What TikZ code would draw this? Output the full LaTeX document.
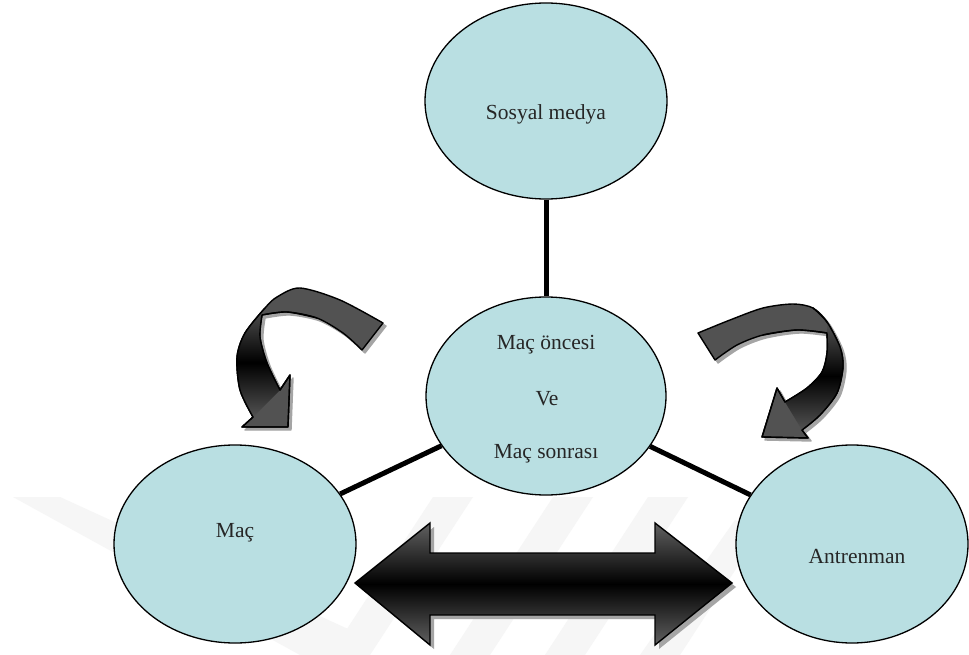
\documentclass[tikz,border=0pt]{standalone}
\usepackage{fontspec}
\setmainfont{Liberation Serif}
\usetikzlibrary{shapes.geometric}
\definecolor{ellfill}{RGB}{185,223,226}
\definecolor{arrgray}{RGB}{82,82,82}
\definecolor{shadowgray}{RGB}{165,165,165}
\definecolor{wmark}{RGB}{246,246,246}
\begin{document}
\begin{tikzpicture}[x=1pt,y=-1pt,
  ell/.style={ellipse, draw=black, line width=1.3pt, fill=ellfill, inner sep=0pt},
  lbl/.style={font=\fontsize{21.5}{24}\selectfont, anchor=base, inner sep=0pt, text=black!85},
  conn/.style={line width=5pt, black},
  curvearr/.style={line width=1.4pt, line join=round},
  stripe/.style={fill=wmark, draw=none}]
\useasboundingbox (0,0) rectangle (969,655);
\fill[white] (0,0) rectangle (969,655);

% faint watermark stripes
\fill[stripe] (13,497) -- (60,497) -- (372,640) -- (340,655) -- (300,655) -- cycle;
\fill[stripe] (330,655) -- (370,655) -- (473,497) -- (433,497) -- cycle;
\fill[stripe] (450,655) -- (490,655) -- (593,497) -- (553,497) -- cycle;
\fill[stripe] (545,655) -- (585,655) -- (688,497) -- (648,497) -- cycle;
\fill[stripe] (640,655) -- (680,655) -- (760,532) -- (735,520) -- cycle;

% ellipses
\node[ell, minimum width=242pt, minimum height=196pt] (sm) at (546,101) {};
\node[ell, minimum width=240pt, minimum height=198pt] (c) at (546,396) {};
\node[ell, minimum width=242pt, minimum height=198pt] (mac) at (235,544) {};
\node[ell, minimum width=232pt, minimum height=198pt] (ant) at (852,544) {};

% connectors
\draw[conn] (sm.south) -- (c.north);
\draw[conn] (c) -- (mac);
\draw[conn] (c) -- (ant);

% labels
\node[lbl] (tsm) at (546,120) {Sosyal medya};
\node[lbl] (tc1) at (546,349) {Maç öncesi};
\node[lbl] (tc2) at (547,405) {Ve};
\node[lbl] (tc3) at (546,458) {Maç sonrası};
\node[lbl] (tmac) at (235,537) {Maç};
\node[lbl] (tant) at (857,563) {Antrenman};

% double arrow
\fill[shadowgray] ([shift={(4,4)}]355,583) -- ([shift={(4,4)}]430,523) -- ([shift={(4,4)}]430,553) -- ([shift={(4,4)}]655,553) -- ([shift={(4,4)}]655,523) -- ([shift={(4,4)}]732,583) -- ([shift={(4,4)}]655,645) -- ([shift={(4,4)}]655,615) -- ([shift={(4,4)}]430,615) -- ([shift={(4,4)}]430,645) -- cycle;
\shade[top color=black!62, bottom color=black!62, middle color=black]
  (355,583) -- (430,523) -- (430,553) -- (655,553) -- (655,523) -- (732,583) -- (655,645) -- (655,615) -- (430,615) -- (430,645) -- cycle;
\draw[line width=1.4pt, line join=miter]
  (355,583) -- (430,523) -- (430,553) -- (655,553) -- (655,523) -- (732,583) -- (655,645) -- (655,615) -- (430,615) -- (430,645) -- cycle;

% left curved arrow
\foreach \s/\fc/\dc in {3/shadowgray/shadowgray, 0/arrgray/black}{
  \filldraw[curvearr, shift={(\s,\s)}, fill=\fc, draw=\dc]
    plot[smooth] coordinates {(383,323) (340,300) (300,288) (277,297) (265,308) (245,333) (237,357) (240,390) (253,417)}
    -- (242,427) -- (288,427) -- (290,375) -- (280,390)
    -- plot[smooth] coordinates {(280,390) (267,363) (260,337) (262,315)}
    -- plot[smooth] coordinates {(262,315) (287,312) (317,318) (343,333) (362,350)}
    -- cycle;
}
\shade[top color=arrgray, bottom color=arrgray, middle color=black]
  plot[smooth] coordinates {(265,308) (245,333) (237,357) (240,390) (253,417)}
  -- (280,390) -- plot[smooth] coordinates {(280,390) (267,363) (260,337) (262,315)} -- cycle;
\draw[curvearr]
  plot[smooth] coordinates {(265,308) (245,333) (237,357) (240,390) (253,417)}
  -- (242,427) -- (288,427) -- (290,375) -- (280,390)
  -- plot[smooth] coordinates {(280,390) (267,363) (260,337) (262,315)}
  -- plot[smooth] coordinates {(262,315) (287,312) (317,318)};

% right curved arrow
\foreach \s/\fc/\dc in {3/shadowgray/shadowgray, 0/arrgray/black}{
  \filldraw[curvearr, shift={(\s,\s)}, fill=\fc, draw=\dc]
    plot[smooth] coordinates {(698,333) (730,320) (763,308) (793,304) (813,308) (827,322) (840,347) (843,367) (837,393) (820,415) (802,430)}
    -- (808,438) -- (762,437) -- (777,388) -- (785,402)
    -- plot[smooth] coordinates {(785,402) (807,388) (822,372) (827,353) (827,333)}
    -- plot[smooth] coordinates {(827,333) (797,330) (763,335) (737,345) (715,360)}
    -- cycle;
}
\shade[top color=arrgray, bottom color=arrgray, middle color=black]
  plot[smooth] coordinates {(827,322) (840,347) (843,367) (837,393) (820,415) (802,430)}
  -- (785,402) -- plot[smooth] coordinates {(785,402) (807,388) (822,372) (827,353) (827,333)} -- cycle;
\draw[curvearr]
  plot[smooth] coordinates {(813,308) (827,322) (840,347) (843,367) (837,393) (820,415) (802,430)}
  -- (808,438) -- (762,437) -- (777,388) -- (785,402)
  -- plot[smooth] coordinates {(785,402) (807,388) (822,372) (827,353) (827,333)}
  -- plot[smooth] coordinates {(827,333) (797,330) (763,335)};
\end{tikzpicture}
\end{document}
